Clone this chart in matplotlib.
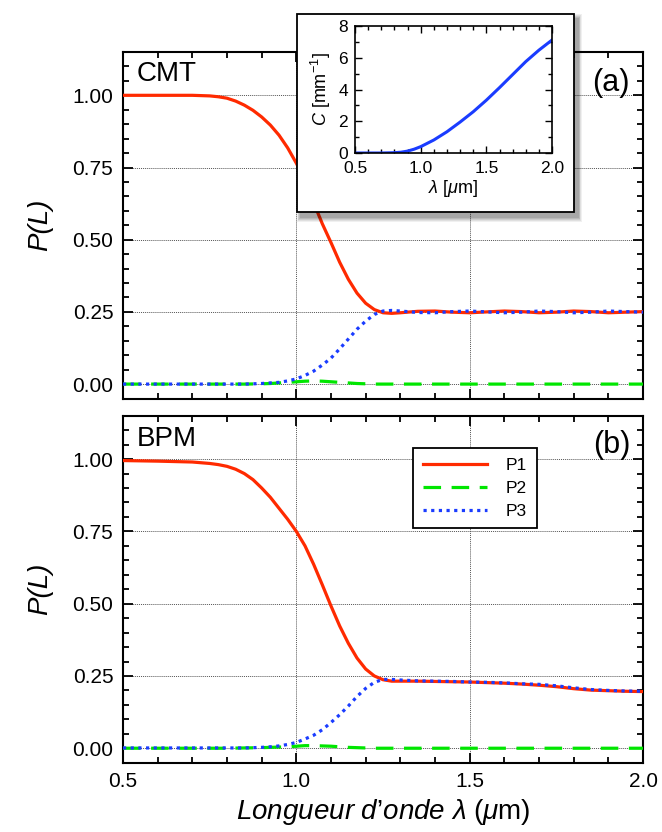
import numpy as np
import matplotlib
matplotlib.use("Agg")
import matplotlib.pyplot as plt
from matplotlib.patches import Rectangle
from matplotlib.ticker import MultipleLocator

plt.rcParams['font.family'] = ['Liberation Sans', 'DejaVu Sans']
plt.rcParams['mathtext.fontset'] = 'custom'
plt.rcParams['mathtext.rm'] = 'Liberation Sans'
plt.rcParams['mathtext.it'] = 'Liberation Sans:italic'

# wavelength grid (um)
lam = [0.50, 0.60, 0.70, 0.75, 0.775, 0.80, 0.825, 0.85, 0.875, 0.90, 0.925, 0.95, 0.975,
       1.00, 1.025, 1.05, 1.075, 1.10, 1.125, 1.15, 1.175, 1.20, 1.225, 1.25, 1.275,
       1.30, 1.35, 1.40, 1.45, 1.50, 1.55, 1.60, 1.65, 1.70, 1.75, 1.80, 1.85, 1.90,
       1.95, 2.00]

# (a) CMT
p1_cmt = [1.000, 1.000, 1.000, 0.998, 0.995, 0.990, 0.980, 0.966, 0.948, 0.925, 0.897, 0.862, 0.818,
          0.765, 0.705, 0.628, 0.555, 0.490, 0.422, 0.363, 0.315, 0.280, 0.258, 0.247, 0.245,
          0.247, 0.252, 0.253, 0.249, 0.247, 0.250, 0.253, 0.251, 0.247, 0.249, 0.253, 0.251, 0.247,
          0.249, 0.251]
p2_cmt = [0.0, 0.0, 0.0, 0.0, 0.0, 0.0, 0.0, 0.0, 0.0005, 0.001, 0.002, 0.004, 0.006,
          0.008, 0.010, 0.011, 0.010, 0.008, 0.006, 0.004, 0.002, 0.001, 0.0, 0.0, 0.0,
          0.0, 0.0, 0.0, 0.0, 0.0, 0.0, 0.0, 0.0, 0.0, 0.0, 0.0, 0.0, 0.0,
          0.0, 0.0]
p3_cmt = [0.0, 0.0, 0.0, 0.0, 0.0, 0.0, 0.0, 0.0, 0.001, 0.002, 0.004, 0.006, 0.011,
          0.018, 0.030, 0.045, 0.066, 0.090, 0.122, 0.156, 0.190, 0.218, 0.241, 0.253, 0.255,
          0.253, 0.248, 0.247, 0.251, 0.253, 0.250, 0.247, 0.249, 0.253, 0.251, 0.247, 0.249, 0.253,
          0.251, 0.249]

# (b) BPM
p1_bpm = [0.995, 0.993, 0.990, 0.985, 0.981, 0.975, 0.965, 0.950, 0.929, 0.900, 0.868, 0.830, 0.792,
          0.750, 0.700, 0.636, 0.565, 0.492, 0.423, 0.363, 0.312, 0.274, 0.250, 0.237, 0.232,
          0.232, 0.232, 0.231, 0.230, 0.229, 0.227, 0.225, 0.222, 0.218, 0.213, 0.206, 0.201, 0.199,
          0.197, 0.196]
p2_bpm = [0.0, 0.0, 0.0, 0.0, 0.0, 0.0, 0.0005, 0.001, 0.0015, 0.002, 0.003, 0.004, 0.005,
          0.007, 0.009, 0.009, 0.008, 0.007, 0.005, 0.003, 0.002, 0.001, 0.0, 0.0, 0.0,
          0.0, 0.0, 0.0, 0.0, 0.0, 0.0, 0.0, 0.0, 0.0, 0.0, 0.0, 0.0, 0.0,
          0.0, 0.0]
p3_bpm = [0.001, 0.001, 0.001, 0.001, 0.001, 0.001, 0.001, 0.001, 0.002, 0.003, 0.005, 0.008, 0.013,
          0.020, 0.032, 0.045, 0.064, 0.089, 0.116, 0.146, 0.179, 0.207, 0.228, 0.238, 0.238,
          0.236, 0.233, 0.232, 0.231, 0.229, 0.228, 0.226, 0.223, 0.221, 0.216, 0.209, 0.203, 0.200,
          0.198, 0.197]

# inset: coupling coefficient C (mm^-1)
lam_c = [0.5, 0.6, 0.7, 0.8, 0.85, 0.9, 0.95, 1.0, 1.1, 1.2, 1.3, 1.4, 1.5, 1.6, 1.7, 1.8, 1.9, 2.0]
c_val = [0.0, 0.0, 0.0, 0.02, 0.05, 0.12, 0.24, 0.40, 0.82, 1.34, 1.95, 2.60, 3.33, 4.12, 4.94, 5.76, 6.48, 7.12]

RED = '#ff2a00'
GREEN = '#00e600'
BLUE = '#1a3cff'

fig = plt.figure(figsize=(6.62, 8.32), dpi=100)
ax_a = fig.add_axes([0.1858, 0.521, 0.7855, 0.4165])
ax_b = fig.add_axes([0.1858, 0.0833, 0.7855, 0.4170])


def style_axes(ax, xlab):
    ax.set_xlim(0.5, 2.0)
    ax.set_ylim(-0.05, 1.15)
    ax.xaxis.set_major_locator(MultipleLocator(0.5))
    ax.xaxis.set_minor_locator(MultipleLocator(0.1))
    ax.yaxis.set_major_locator(MultipleLocator(0.25))
    ax.yaxis.set_minor_locator(MultipleLocator(0.05))
    ax.tick_params(which='both', direction='in', top=True, right=True, width=1.3)
    ax.tick_params(which='major', length=7, labelsize=15, pad=7)
    ax.tick_params(which='minor', length=4)
    ax.yaxis.set_major_formatter(plt.FormatStrFormatter('%.2f'))
    ax.xaxis.set_major_formatter(plt.FormatStrFormatter('%.1f'))
    for s in ax.spines.values():
        s.set_linewidth(1.5)
    ax.grid(True, which='major', linestyle=(0, (1, 1)), color='#555555', linewidth=0.7)
    ax.set_ylabel('P(L)', style='italic', fontsize=20, labelpad=14)
    if not xlab:
        ax.tick_params(labelbottom=False)


def draw(ax, p1, p2, p3):
    ax.plot(lam, p1, color=RED, lw=2.3, label='P1', zorder=3)
    ax.plot(lam, p2, color=GREEN, lw=2.3, ls=(0, (5.5, 3.3)), label='P2', zorder=4)
    ax.plot(lam, p3, color=BLUE, lw=2.3, ls=(0, (1, 1.4)), label='P3', zorder=5)


draw(ax_a, p1_cmt, p2_cmt, p3_cmt)
draw(ax_b, p1_bpm, p2_bpm, p3_bpm)
style_axes(ax_a, False)
style_axes(ax_b, True)
ax_b.set_xlabel(r'$Longueur\ d$’$onde\ \lambda$ ($\mu$m)', fontsize=20, labelpad=4)

ax_a.text(0.027, 0.975, 'CMT', transform=ax_a.transAxes, fontsize=20, ha='left', va='top')
ax_a.text(0.975, 0.91, '(a)', transform=ax_a.transAxes, fontsize=22, ha='right', va='center')
ax_b.text(0.027, 0.97, 'BPM', transform=ax_b.transAxes, fontsize=20, ha='left', va='top')
ax_b.text(0.975, 0.915, '(b)', transform=ax_b.transAxes, fontsize=22, ha='right', va='center')

leg = ax_b.legend(loc='upper left', bbox_to_anchor=(0.558, 0.907), borderaxespad=0,
                  fontsize=12.5, handlelength=3.7, fancybox=False, framealpha=1,
                  edgecolor='black', labelspacing=0.45, borderpad=0.55, handletextpad=1.1)
leg.get_frame().set_linewidth(1.3)

# inset frame with soft shadow
bx, by, bw, bh = 0.4486, 0.7452, 0.4184, 0.238
for i, a in enumerate([0.06, 0.07, 0.08, 0.09, 0.10]):
    d = 0.0025 * (5 - i)
    fig.add_artist(Rectangle((bx + 0.006 - d / 2, by - 0.006 - d / 2), bw + d, bh + d,
                             transform=fig.transFigure, facecolor='black', alpha=a,
                             edgecolor='none', zorder=1))
fig.add_artist(Rectangle((bx, by), bw, bh, transform=fig.transFigure, facecolor='white',
                         edgecolor='black', linewidth=1.3, zorder=2))

ax_in = fig.add_axes([0.5363, 0.8161, 0.2976, 0.1526])
ax_in.set_zorder(10)
ax_in.plot(lam_c, c_val, color=BLUE, lw=2.2)
ax_in.set_xlim(0.5, 2.0)
ax_in.set_ylim(0, 8)
ax_in.xaxis.set_major_locator(MultipleLocator(0.5))
ax_in.xaxis.set_minor_locator(MultipleLocator(0.1))
ax_in.yaxis.set_major_locator(MultipleLocator(2))
ax_in.yaxis.set_minor_locator(MultipleLocator(1))
ax_in.xaxis.set_major_formatter(plt.FormatStrFormatter('%.1f'))
ax_in.tick_params(which='both', direction='in', top=True, right=True, width=1.0)
ax_in.tick_params(which='major', length=5, labelsize=12.5)
ax_in.tick_params(axis='x', pad=6)
ax_in.tick_params(axis='y', pad=5)
ax_in.tick_params(which='minor', length=3)
for s in ax_in.spines.values():
    s.set_linewidth(1.2)
ax_in.set_xlabel(r'$\lambda$ [$\mu$m]', fontsize=13, labelpad=1)
ax_in.set_ylabel(r'$C$ [mm$^{-1}$]', fontsize=13, labelpad=4)

fig.savefig('out.png', dpi=100)
